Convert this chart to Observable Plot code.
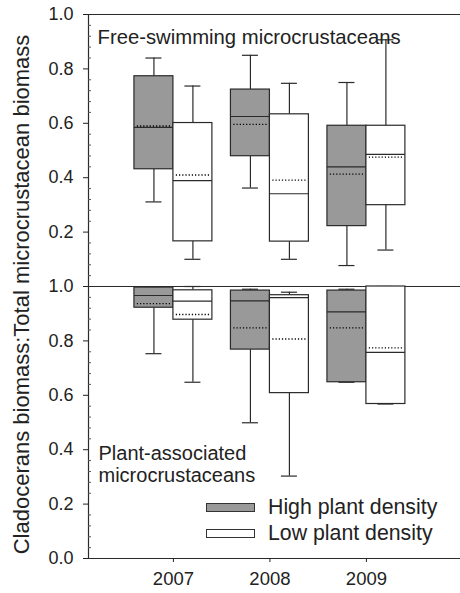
<!DOCTYPE html>
<html><head><meta charset="utf-8">
<script src="https://cdn.jsdelivr.net/npm/d3@7"></script>
<script src="https://cdn.jsdelivr.net/npm/@observablehq/plot@0.6"></script>
<style>
html,body{margin:0;padding:0;background:#fff;}
#chart{position:relative;width:460px;height:593px;font-family:"Liberation Sans",Arial,sans-serif;color:#222;}
.lg{position:absolute;left:206px;height:24px;display:flex;align-items:center;font-size:21.3px;white-space:nowrap;}
.lg .sw{width:47px;height:7px;border:1px solid #333;margin-right:13px;}
</style></head><body><div id="chart"></div>
<script>
const years = [2007, 2008, 2009];
const groups = ["High plant density", "Low plant density"];
const groupFill = ["#999999", "#ffffff"];

// Free-swimming microcrustaceans (upper panel)
const freeHighLo   = [0.311, 0.362, 0.077];
const freeHighQ1   = [0.431, 0.479, 0.222];
const freeHighMed  = [0.585, 0.625, 0.440];
const freeHighMean = [0.590, 0.596, 0.413];
const freeHighQ3   = [0.773, 0.724, 0.591];
const freeHighHi   = [0.840, 0.850, 0.750];

const freeLowLo    = [0.100, 0.100, 0.134];
const freeLowQ1    = [0.166, 0.165, 0.299];
const freeLowMed   = [0.389, 0.341, 0.486];
const freeLowMean  = [0.410, 0.391, 0.476];
const freeLowQ3    = [0.601, 0.633, 0.591];
const freeLowHi    = [0.737, 0.747, 0.907];

// Plant-associated microcrustaceans (lower panel)
const plantHighLo   = [0.753, 0.499, 0.648];
const plantHighQ1   = [0.922, 0.768, 0.648];
const plantHighMed  = [0.967, 0.947, 0.907];
const plantHighMean = [0.937, 0.848, 0.848];
const plantHighQ3   = [0.996, 0.985, 0.985];
const plantHighHi   = [0.996, 0.990, 0.990];

const plantLowLo    = [0.648, 0.303, 0.568];
const plantLowQ1    = [0.878, 0.608, 0.568];
const plantLowMed   = [0.946, 0.959, 0.758];
const plantLowMean  = [0.897, 0.807, 0.774];
const plantLowQ3    = [0.986, 0.968, 1.000];
const plantLowHi    = [1.000, 0.979, 1.000];

const majorTicks = [0, 0.2, 0.4, 0.6, 0.8, 1.0, 1.2, 1.4, 1.6, 1.8, 2.0];
const yTitle = "Cladocerans biomass:Total microcrustacean biomass";
const freeTitle = "Free-swimming microcrustaceans";
const plantTitle = "Plant-associated\nmicrocrustaceans";

// build records; the upper panel is stacked on top of the lower one (offset 1)
const series = [
  {off: 1, group: groups[0], lo: freeHighLo, q1: freeHighQ1, med: freeHighMed, mean: freeHighMean, q3: freeHighQ3, hi: freeHighHi},
  {off: 1, group: groups[1], lo: freeLowLo, q1: freeLowQ1, med: freeLowMed, mean: freeLowMean, q3: freeLowQ3, hi: freeLowHi},
  {off: 0, group: groups[0], lo: plantHighLo, q1: plantHighQ1, med: plantHighMed, mean: plantHighMean, q3: plantHighQ3, hi: plantHighHi},
  {off: 0, group: groups[1], lo: plantLowLo, q1: plantLowQ1, med: plantLowMed, mean: plantLowMean, q3: plantLowQ3, hi: plantLowHi}
];
const rows = [];
for (const s of series) years.forEach((year, i) => rows.push({
  year, group: s.group, off: s.off,
  lo: s.lo[i] + s.off, q1: s.q1[i] + s.off, med: s.med[i] + s.off,
  mean: s.mean[i] + s.off, q3: s.q3[i] + s.off, hi: s.hi[i] + s.off
}));

const BW = 0.404, CAP = 0.083;
const left = d => d.group === groups[0] ? d.year - BW : d.year;
const right = d => d.group === groups[0] ? d.year : d.year + BW;
const mid = d => (left(d) + right(d)) / 2;
const xDomain = [2006.12, 2009.975];
const minorTicks = d3.range(0, 51).map(i => +(i * 0.04).toFixed(2)).filter(v => Math.abs(v / 0.2 - Math.round(v / 0.2)) > 1e-6);
const stroke = "#2a2a2a";

const chart = Plot.plot({
  width: 460, height: 593,
  marginLeft: 88, marginRight: 0, marginTop: 14, marginBottom: 35,
  style: {fontFamily: '"Liberation Sans", Arial, sans-serif', color: "#222", background: "#fff"},
  x: {domain: xDomain},
  y: {domain: [0, 2]},
  color: {domain: groups, range: groupFill},
  marks: [
    Plot.ruleY([0, 1, 2], {stroke, strokeWidth: 1.2}),
    Plot.ruleX([xDomain[0]], {stroke, strokeWidth: 1.2}),
    Plot.axisY({ticks: majorTicks, tickSize: 5, tickPadding: 10, fontSize: 18, label: null,
      tickFormat: d => (d <= 1 ? d : d - 1).toFixed(1)}),
    Plot.axisY({ticks: minorTicks, tickSize: 3, dx: 3, tickFormat: () => "", label: null, stroke: "#555"}),
    Plot.axisX({ticks: years, tickSize: 4, tickPadding: 9, fontSize: 18.5, label: null, tickFormat: d => String(d)}),
    // whiskers
    Plot.ruleX(rows, {x: mid, y1: "q3", y2: "hi", stroke, strokeWidth: 1.2}),
    Plot.ruleX(rows, {x: mid, y1: "lo", y2: "q1", stroke, strokeWidth: 1.2}),
    Plot.ruleY(rows, {y: "hi", x1: d => mid(d) - CAP, x2: d => mid(d) + CAP, stroke, strokeWidth: 1.2}),
    Plot.ruleY(rows, {y: "lo", x1: d => mid(d) - CAP, x2: d => mid(d) + CAP, stroke, strokeWidth: 1.2}),
    // boxes
    Plot.rect(rows, {x1: left, x2: right, y1: "q1", y2: "q3", fill: "group", stroke, strokeWidth: 1.2}),
    Plot.ruleY(rows, {y: "med", x1: left, x2: right, stroke, strokeWidth: 1.2}),
    Plot.ruleY(rows, {y: "mean", x1: d => left(d) + 0.03, x2: d => right(d) - 0.03, stroke: "#000", strokeWidth: 1.3, strokeDasharray: "1.2,2"}),
    // panel titles
    Plot.text([freeTitle], {frameAnchor: "top-left", textAnchor: "start", lineAnchor: "top", dx: 9, dy: 15, fontSize: 20.3, fill: "#222"}),
    Plot.text([plantTitle], {frameAnchor: "top-left", textAnchor: "start", lineAnchor: "top", dx: 10, dy: 430, fontSize: 20, lineHeight: 1.1, fill: "#222"}),
    // y title
    Plot.text([yTitle], {frameAnchor: "left", textAnchor: "middle", rotate: -90, dx: -67, dy: 8, fontSize: 22, fill: "#222"})
  ]
});
const root = document.getElementById("chart");
root.appendChild(chart);
groups.forEach((g, i) => {
  const div = document.createElement("div");
  div.className = "lg";
  div.style.top = (i === 0 ? 495 : 521) + "px";
  const sw = document.createElement("div");
  sw.className = "sw";
  sw.style.background = groupFill[i];
  const t = document.createElement("span");
  t.textContent = g;
  div.appendChild(sw); div.appendChild(t);
  root.appendChild(div);
});
</script></body></html>
